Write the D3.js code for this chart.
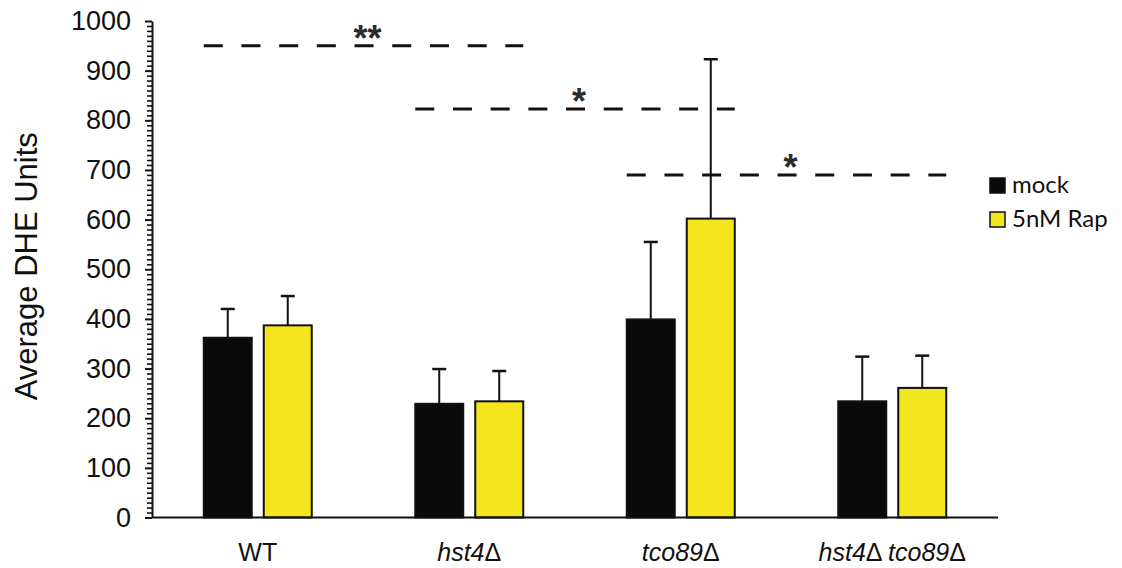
<!DOCTYPE html>
<html>
<head>
<meta charset="utf-8">
<script src="https://cdn.jsdelivr.net/npm/d3@7"></script>
<style>
  html, body { margin: 0; padding: 0; background: #fff; }
  svg { display: block; }
</style>
</head>
<body>
<svg id="chart" width="1122" height="568"></svg>
<script>
// ---- data ----
const categories = ["WT", "hst4", "tco89", "hst4 tco89"];
const categoryLabels = [
  [{t: "WT", i: false}],
  [{t: "hst4", i: true}, {t: "Δ", i: false}],
  [{t: "tco89", i: true}, {t: "Δ", i: false}],
  [{t: "hst4", i: true}, {t: "Δ", i: false}, {t: " ", i: false}, {t: "tco89", i: true}, {t: "Δ", i: false}]
];
const seriesNames = ["mock", "5nM Rap"];
const mockValues = [362, 229, 399, 234];
const mockErrors = [58, 70, 156, 90];
const rapValues = [387, 234, 602, 261];
const rapErrors = [59, 61, 321, 65];
const yTicks = [0, 100, 200, 300, 400, 500, 600, 700, 800, 900, 1000];
const sigFrom = [0, 1, 2];
const sigTo = [1, 2, 3];
const sigLevel = [950, 823, 690];
const sigLabel = ["**", "*", "*"];

const colors = {"mock": "#0a0a0a", "5nM Rap": "#f3e61f"};

const svg = d3.select("#chart");
const pLeft = 152, pRight = 998, pTop = 21, pBottom = 517.5;

const x0 = d3.scaleBand().domain(categories).range([pLeft, pRight]).padding(0);
const x1 = d3.scaleBand().domain(seriesNames).range([0, 108]).paddingInner(0.2);
const y = d3.scaleLinear().domain([0, 1000]).range([pBottom, pTop]);

const data = categories.map((c, i) => ({
  cat: c,
  vals: [
    {s: "mock", v: mockValues[i], e: mockErrors[i]},
    {s: "5nM Rap", v: rapValues[i], e: rapErrors[i]}
  ]
}));
const groupStart = c => x0(c) + x0.bandwidth() / 2 - 54;

// y axis minor ticks
const minor = d3.range(0, 1001, 10).filter(v => v % 100 !== 0);
svg.append("g")
  .attr("transform", `translate(${pLeft},0)`)
  .call(d3.axisLeft(y).tickValues(minor).tickSize(5).tickFormat(""))
  .call(g => g.select(".domain").remove())
  .call(g => g.selectAll("line").attr("stroke", "#111").attr("stroke-width", 1.6));

// y axis major
svg.append("g")
  .attr("transform", `translate(${pLeft},0)`)
  .call(d3.axisLeft(y).tickValues(yTicks).tickSize(7).tickPadding(14).tickSizeOuter(0).tickFormat(d3.format("d")))
  .call(g => g.select(".domain").attr("stroke", "#111").attr("stroke-width", 2))
  .call(g => g.selectAll("line").attr("stroke", "#111").attr("stroke-width", 2))
  .call(g => g.selectAll("text")
    .attr("font-family", "'Liberation Sans', Arial, sans-serif")
    .attr("font-size", 27).attr("fill", "#111"));

// bars
const groups = svg.append("g").selectAll("g").data(data).join("g")
  .attr("transform", d => `translate(${groupStart(d.cat)},0)`);

// error bars (upper only)
groups.selectAll("g.err").data(d => d.vals).join("g").attr("class", "err")
  .each(function(d) {
    const g = d3.select(this);
    const cx = x1(d.s) + x1.bandwidth() / 2;
    g.append("line").attr("x1", cx).attr("x2", cx)
      .attr("y1", y(d.v)).attr("y2", y(d.v + d.e))
      .attr("stroke", "#111").attr("stroke-width", 2);
    g.append("line").attr("x1", cx - 7).attr("x2", cx + 7)
      .attr("y1", y(d.v + d.e)).attr("y2", y(d.v + d.e))
      .attr("stroke", "#111").attr("stroke-width", 2.5);
  });

groups.selectAll("rect").data(d => d.vals).join("rect")
  .attr("x", d => x1(d.s))
  .attr("y", d => y(d.v))
  .attr("width", x1.bandwidth())
  .attr("height", d => y(0) - y(d.v))
  .attr("fill", d => colors[d.s])
  .attr("stroke", "#111")
  .attr("stroke-width", 2);

// x axis
svg.append("line")
  .attr("x1", pLeft).attr("x2", pRight)
  .attr("y1", y(0)).attr("y2", y(0))
  .attr("stroke", "#111").attr("stroke-width", 2);

// x labels
svg.append("g").selectAll("text").data(categories).join("text")
  .attr("x", c => x0(c) + x0.bandwidth() / 2)
  .attr("y", 561)
  .attr("text-anchor", "middle")
  .attr("font-family", "'Liberation Sans', Arial, sans-serif")
  .attr("font-size", 25)
  .attr("fill", "#111")
  .each(function(c, i) {
    const t = d3.select(this);
    categoryLabels[i].forEach(p => {
      t.append("tspan").text(p.t).attr("font-style", p.i ? "italic" : "normal");
    });
  });

// y axis title
svg.append("text")
  .attr("transform", `translate(37,${(pTop + pBottom) / 2 - 3}) rotate(-90)`)
  .attr("text-anchor", "middle")
  .attr("font-family", "'Liberation Sans', Arial, sans-serif")
  .attr("font-size", 31)
  .attr("fill", "#111")
  .text("Average DHE Units");

// significance lines
sigFrom.forEach((f, i) => {
  const xa = groupStart(categories[f]) + x1("mock");
  const xb = groupStart(categories[sigTo[i]]) + x1("5nM Rap") + x1.bandwidth();
  svg.append("line")
    .attr("x1", xa).attr("x2", xb)
    .attr("y1", y(sigLevel[i])).attr("y2", y(sigLevel[i]))
    .attr("stroke", "#111").attr("stroke-width", 3)
    .attr("stroke-dasharray", "19,18.7");
  svg.append("text")
    .attr("x", (xa + xb) / 2 + 4)
    .attr("y", y(sigLevel[i]) + 5)
    .attr("text-anchor", "middle")
    .attr("font-family", "'Liberation Sans', Arial, sans-serif")
    .attr("font-weight", "bold")
    .attr("font-size", 36)
    .attr("fill", "#2a2a2a")
    .text(sigLabel[i]);
});

// legend
const leg = svg.append("g").attr("transform", "translate(990,178)");
seriesNames.forEach((s, i) => {
  const g = leg.append("g").attr("transform", `translate(0,${i * 34})`);
  g.append("rect").attr("width", 15).attr("height", 15)
    .attr("fill", colors[s]).attr("stroke", "#111").attr("stroke-width", 1.5);
  g.append("text").attr("x", 22).attr("y", 15)
    .attr("font-family", "Lato, 'Open Sans', sans-serif")
    .attr("font-size", 24)
    .attr("fill", "#111")
    .text(s);
});
</script>
</body>
</html>
